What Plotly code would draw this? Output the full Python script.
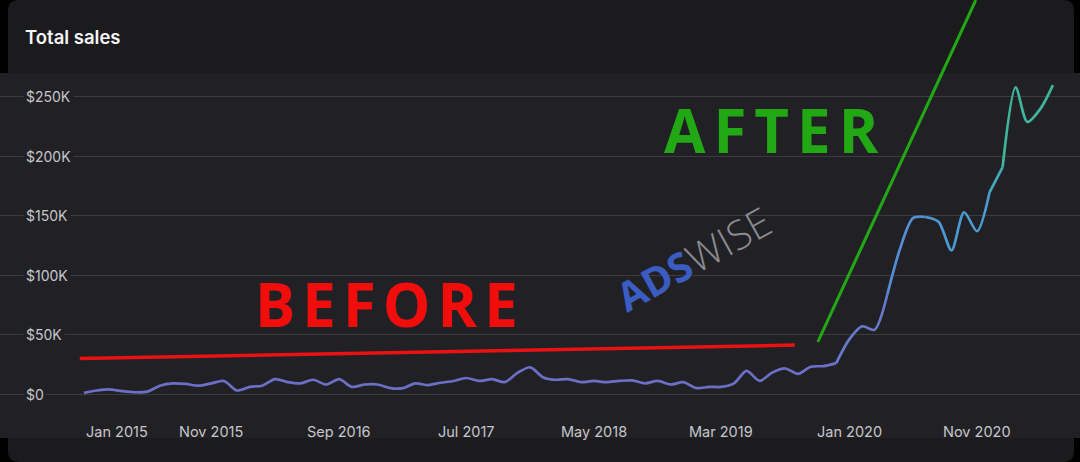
import plotly.graph_objects as go
import pandas as pd

# ---------------- data ----------------
months = pd.date_range("2015-01-01", periods=77, freq="MS").strftime("%Y-%m-%d").tolist()
sales = [1000, 3000, 4000, 2500, 1500, 2000, 7000, 9000, 8500, 7000, 9000, 11000,
         3000, 6000, 7000, 12500, 10000, 9000, 12000, 8000, 12500, 6000, 8000, 8000,
         5000, 5000, 9000, 7500, 9500, 11000, 13500, 11000, 12500, 10000, 18000, 22500,
         14000, 12000, 12600, 10000, 11000, 10000, 11000, 11500, 9000, 11000, 8000, 10000,
         5000, 6000, 6000, 9000, 19500, 11000, 18000, 21500, 17000, 23000, 23500, 26000,
         46000, 57000, 54000, 84000, 122000, 148000, 149000, 145000, 121000, 153000, 137000, 170000,
         191000, 258000, 229000, 240000, 260000]

y_tick_vals = [0, 50000, 100000, 150000, 200000, 250000]
y_tick_text = ["$0", "$50K", "$100K", "$150K", "$200K", "$250K"]
x_tick_vals = ["2015-01-01", "2015-11-01", "2016-09-01", "2017-07-01",
               "2018-05-01", "2019-03-01", "2020-01-01", "2020-11-01"]
x_tick_text = ["Jan 2015", "Nov 2015", "Sep 2016", "Jul 2017",
               "May 2018", "Mar 2019", "Jan 2020", "Nov 2020"]

# hand-drawn overlay strokes (date, value)
before_line_x = ["2014-12-22", "2019-08-24"]
before_line_y = [29900, 41200]
after_line_x = ["2019-10-18", "2020-10-29"]
after_line_y = [43800, 331600]

# gradient segments along the series: (first index, last index, colour)
segments = [(0, 59, "#6b6fc5"), (59, 63, "#6679cb"), (63, 66, "#558cd3"),
            (66, 71, "#4b9bd2"), (71, 72, "#45a9ba"), (72, 76, "#40b49c")]

# ---------------- layout constants ----------------
W, H = 1080, 462
CARD = "#1b1b1e"
BAND = "#212125"
GRID = "#3b3b40"
LABEL = "#c6c6cb"

x_range = [(pd.Timestamp("2015-01-01") - pd.Timedelta(days=200.4)).strftime("%Y-%m-%d %H:%M"),
           (pd.Timestamp("2015-01-01") + pd.Timedelta(days=2376.6)).strftime("%Y-%m-%d %H:%M")]
y_range = [-57200, 331600]

fig = go.Figure()

for a, b, col in segments:
    fig.add_trace(go.Scatter(
        x=months[a:b + 1], y=sales[a:b + 1], mode="lines",
        line=dict(color=col, width=2.7, shape="spline", smoothing=0.8),
        hoverinfo="skip", showlegend=False))

def px(xp):
    return xp / W

def py(yp):
    return 1 - yp / H

r = 11
# card with rounded corners
card_path = (f"M {px(8)},{py(0 + r)} Q {px(8)},{py(0)} {px(8 + r)},{py(0)} "
             f"L {px(1074 - r)},{py(0)} Q {px(1074)},{py(0)} {px(1074)},{py(r)} "
             f"L {px(1074)},{py(462 - r)} Q {px(1074)},{py(462)} {px(1074 - r)},{py(462)} "
             f"L {px(8 + r)},{py(462)} Q {px(8)},{py(462)} {px(8)},{py(462 - r)} Z")
shapes = [
    dict(type="path", path=card_path, xref="paper", yref="paper",
         fillcolor=CARD, line=dict(width=0), layer="below"),
    dict(type="rect", xref="paper", yref="paper", x0=0, x1=1, y0=py(438), y1=py(73),
         fillcolor=BAND, line=dict(width=0), layer="below"),
    dict(type="line", xref="x", yref="y", x0=before_line_x[0], x1=before_line_x[1],
         y0=before_line_y[0], y1=before_line_y[1], line=dict(color="#ec1111", width=3.5)),
    dict(type="line", xref="x", yref="y", x0=after_line_x[0], x1=after_line_x[1],
         y0=after_line_y[0], y1=after_line_y[1], line=dict(color="#22a814", width=3)),
]

annotations = []
annotations.append(dict(text="Total sales", xref="paper", yref="paper", x=px(23), y=py(37),
                        xanchor="left", yanchor="middle", showarrow=False,
                        font=dict(family="Inter", size=18.5, color="#f4f4f6", weight=600)))
for v, t in zip(y_tick_vals, y_tick_text):
    annotations.append(dict(text=t, xref="paper", yref="y", x=px(23), y=v,
                            xanchor="left", yanchor="middle", showarrow=False,
                            bgcolor=BAND, borderpad=2,
                            font=dict(family="Inter", size=14, color=LABEL)))
for i, (v, t) in enumerate(zip(x_tick_vals, x_tick_text)):
    annotations.append(dict(text=t, xref="x", yref="paper", x=v, y=py(431),
                            xanchor="left" if i == 0 else "center", yanchor="middle",
                            showarrow=False,
                            font=dict(family="Inter", size=14.5, color=LABEL)))

annotations.append(dict(text='<span style="letter-spacing:7px">BEFORE</span>',
                        xref="x", yref="y", x="2016-02-08", y=75500,
                        xanchor="left", yanchor="middle", showarrow=False,
                        font=dict(family="Open Sans", size=60, color="#f20d0d", weight=700)))
annotations.append(dict(text='<span style="letter-spacing:8px">AFTER</span>',
                        xref="x", yref="y", x="2018-10-11", y=222500,
                        xanchor="left", yanchor="middle", showarrow=False,
                        font=dict(family="Open Sans", size=60, color="#22a814", weight=700)))
annotations.append(dict(text='<b>ADS</b><span style="color:#8b8b90;font-weight:300">WISE</span>',
                        xref="x", yref="y", x="2018-12-25", y=114000,
                        xanchor="center", yanchor="middle", showarrow=False, textangle=-29,
                        font=dict(family="Open Sans", size=40, color="#3b5cc0")))

fig.update_layout(
    width=W, height=H,
    margin=dict(l=0, r=0, t=0, b=0),
    paper_bgcolor="#000000",
    plot_bgcolor="rgba(0,0,0,0)",
    shapes=shapes,
    annotations=annotations,
    xaxis=dict(type="date", range=x_range, showgrid=False, zeroline=False,
               showticklabels=False, ticks="", showline=False, fixedrange=True),
    yaxis=dict(range=y_range, tickvals=y_tick_vals, showgrid=True, gridcolor=GRID,
               gridwidth=1, zeroline=False, showticklabels=False, ticks="",
               showline=False, fixedrange=True),
)

fig.write_html("out.html", config={"displayModeBar": False},
               post_script="document.body.style.margin='0';document.body.style.overflow='hidden';")
